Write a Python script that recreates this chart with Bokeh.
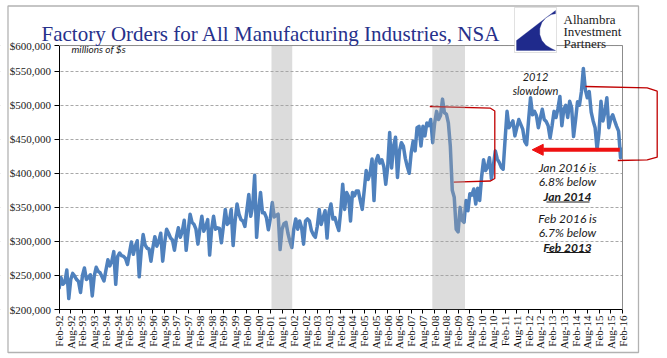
import math
from bokeh.plotting import figure
from bokeh.models import (Range1d, FixedTicker, BoxAnnotation, PolyAnnotation,
                          Label, Arrow, NormalHead)
from bokeh.embed import file_html
from bokeh.resources import INLINE

# ---------------- data (millions of $, NSA, monthly Feb-92 .. Feb-16) ----------------
orders_1992 = [230000, 247000, 237000, 240000, 258000, 216000, 244000, 253000, 249000, 244000, 241000]
orders_1993 = [225000, 250000, 261000, 244000, 247000, 251000, 220000, 249000, 262000, 256000, 254000, 248000]
orders_1994 = [242000, 258000, 273000, 264000, 271000, 285000, 237000, 278000, 283000, 279000, 278000, 275000]
orders_1995 = [266000, 283000, 299000, 281000, 293000, 301000, 248000, 285000, 310000, 295000, 290000, 289000]
orders_1996 = [271000, 291000, 307000, 293000, 300000, 312000, 271000, 298000, 318000, 312000, 305000, 302000]
orders_1997 = [287000, 306000, 320000, 306000, 315000, 331000, 287000, 315000, 340000, 328000, 325000, 318000]
orders_1998 = [296000, 318000, 337000, 315000, 322000, 332000, 280000, 318000, 337000, 318000, 320000, 319000]
orders_1999 = [298000, 322000, 347000, 325000, 328000, 347000, 294000, 330000, 355000, 340000, 332000, 330000]
orders_2000 = [322000, 345000, 369000, 337000, 352000, 397000, 306000, 345000, 372000, 342000, 342000, 335000]
orders_2001 = [317000, 333000, 357000, 336000, 338000, 340000, 288000, 318000, 326000, 328000, 312000, 300000]
orders_2002 = [291000, 318000, 333000, 318000, 330000, 320000, 296000, 330000, 333000, 330000, 316000, 310000]
orders_2003 = [306000, 322000, 347000, 325000, 335000, 345000, 305000, 343000, 355000, 333000, 335000, 325000]
orders_2004 = [316000, 345000, 384000, 347000, 372000, 366000, 330000, 372000, 367000, 374000, 374000, 360000]
orders_2005 = [347000, 375000, 404000, 391000, 400000, 421000, 360000, 418000, 426000, 415000, 420000, 410000]
orders_2006 = [384000, 410000, 460000, 408000, 440000, 453000, 394000, 433000, 445000, 440000, 422000, 410000]
orders_2007 = [400000, 430000, 447000, 433000, 467000, 469000, 440000, 469000, 455000, 474000, 470000, 479000]
orders_2008 = [445000, 474000, 491000, 479000, 485000, 509000, 489000, 487000, 474000, 440000, 375000, 365000]
orders_2009 = [318000, 314000, 350000, 331000, 328000, 360000, 345000, 370000, 368000, 377000, 355000, 378000]
orders_2010 = [360000, 395000, 420000, 404000, 409000, 423000, 392000, 411000, 433000, 421000, 416000, 409000]
orders_2011 = [406000, 450000, 491000, 467000, 472000, 477000, 455000, 467000, 479000, 472000, 465000, 447000]
orders_2012 = [442000, 478000, 511000, 486000, 491000, 485000, 467000, 481000, 494000, 479000, 476000, 470000]
orders_2013 = [452000, 470000, 491000, 482000, 495000, 513000, 470000, 494000, 500000, 482000, 506000, 496000]
orders_2014 = [454000, 478000, 505000, 500000, 520000, 554000, 523000, 511000, 520000, 490000, 477000, 467000]
orders_2015 = [435000, 460000, 506000, 477000, 490000, 511000, 467000, 480000, 486000, 477000, 469000, 462000]
orders_2016 = [423000, 438000]

tick_labels = ["Feb-92", "Aug-92", "Feb-93", "Aug-93", "Feb-94", "Aug-94", "Feb-95", "Aug-95",
               "Feb-96", "Aug-96", "Feb-97", "Aug-97", "Feb-98", "Aug-98", "Feb-99", "Aug-99",
               "Feb-00", "Aug-00", "Feb-01", "Aug-01", "Feb-02", "Aug-02", "Feb-03", "Aug-03",
               "Feb-04", "Aug-04", "Feb-05", "Aug-05", "Feb-06", "Aug-06", "Feb-07", "Aug-07",
               "Feb-08", "Aug-08", "Feb-09", "Aug-09", "Feb-10", "Aug-10", "Feb-11", "Aug-11",
               "Feb-12", "Aug-12", "Feb-13", "Aug-13", "Feb-14", "Aug-14", "Feb-15", "Aug-15",
               "Feb-16"]
tick_step_months = 6

y_tick_values = [200000, 250000, 300000, 350000, 400000, 450000, 500000, 550000, 587700]
y_tick_labels = ["$200,000", "$250,000", "$300,000", "$350,000", "$400,000",
                 "$450,000", "$500,000", "$550,000", "$600,000"]

# recessions as month indexes counted from Feb-92
recession_2001 = (108.6, 119.2)
recession_2008 = (190.8, 207.5)

orders = (orders_1992 + orders_1993 + orders_1994 + orders_1995 + orders_1996 + orders_1997 +
          orders_1998 + orders_1999 + orders_2000 + orders_2001 + orders_2002 + orders_2003 +
          orders_2004 + orders_2005 + orders_2006 + orders_2007 + orders_2008 + orders_2009 +
          orders_2010 + orders_2011 + orders_2012 + orders_2013 + orders_2014 + orders_2015 +
          orders_2016)
months = list(range(len(orders)))
x_ticks = [k * tick_step_months for k in range(len(tick_labels))]
X_LAST = months[-1]
Y_BOT, Y_TOP = y_tick_values[0], y_tick_values[-1]

# ---------------- geometry: frame covers whole canvas, axes at fixed locations ----------------
W, H = 665, 356
PX_I0, PX_ILAST = 58.5, 622.0       # pixel x of first / last month
PX_VBOT, PX_V550 = 309.0, 70.7       # pixel y of 200,000 and 550,000
dx = (PX_ILAST - PX_I0) / X_LAST
dv = (550000 - Y_BOT) / (PX_VBOT - PX_V550)


def px_x(x):
    return (x - PX_I0) / dx


def px_y(y):
    return Y_BOT + (PX_VBOT - y) * dv


p = figure(width=W, height=H, output_backend="svg", toolbar_location=None,
           x_range=Range1d(px_x(0), px_x(W)), y_range=Range1d(px_y(H), px_y(0)),
           min_border=0, min_border_left=0, min_border_right=0,
           min_border_top=0, min_border_bottom=0,
           background_fill_color="white", border_fill_color="white")
p.outline_line_color = None
p.xgrid.visible = False
p.ygrid.grid_line_color = "#a8a8a8"
p.ygrid.grid_line_dash = "3 2"
p.ygrid.grid_line_width = 1

# axes
p.xaxis.fixed_location = Y_BOT
p.xaxis.bounds = (0, X_LAST)
p.xaxis.ticker = FixedTicker(ticks=x_ticks)
p.xaxis.major_label_overrides = {t: l for t, l in zip(x_ticks, tick_labels)}
p.xaxis.major_label_orientation = math.pi / 2
p.xaxis.major_label_text_font = "Liberation Serif"
p.xaxis.major_label_text_font_size = "11px"
p.xaxis.major_label_text_color = "#111111"
p.xaxis.major_label_standoff = 2
p.xaxis.major_tick_out = 4
p.xaxis.major_tick_in = 0
p.xaxis.minor_tick_line_color = None
p.xaxis.axis_line_color = "black"
p.xaxis.major_tick_line_color = "black"

p.yaxis.fixed_location = 0
p.yaxis.bounds = (Y_BOT, Y_TOP)
p.yaxis.ticker = FixedTicker(ticks=y_tick_values)
p.yaxis.major_label_overrides = {t: l for t, l in zip(y_tick_values, y_tick_labels)}
p.yaxis.major_label_text_font = "Liberation Sans Narrow"
p.yaxis.major_label_text_font_size = "11px"
p.yaxis.major_label_text_color = "#222222"
p.yaxis.major_label_standoff = 3
p.yaxis.major_tick_out = 5
p.yaxis.major_tick_in = 0
p.yaxis.minor_tick_line_color = None
p.yaxis.axis_line_color = "black"
p.yaxis.major_tick_line_color = "black"

# keep the dashed grid inside the plot area
p.add_layout(BoxAnnotation(right=0, fill_color="white", fill_alpha=1, line_color=None, level="glyph"))
p.add_layout(BoxAnnotation(left=X_LAST, fill_color="white", fill_alpha=1, line_color=None, level="glyph"))

# plot-area border (top and right, grey)
p.line([0, X_LAST, X_LAST], [Y_TOP, Y_TOP, Y_BOT], line_color="#8c8c8c", line_width=1,
       level="annotation")

# data line
p.line(months, orders, line_color="#4f81bd", line_width=3.5, line_join="round")

# recession shading (on top, semi transparent)
for a, b in (recession_2001, recession_2008):
    p.add_layout(BoxAnnotation(left=a, right=b, bottom=Y_BOT, top=Y_TOP,
                               fill_color="#a1a1a1", fill_alpha=0.375, line_color=None))

# 2008 red bracket
red = "#c00000"
p.line([px_x(429.3), px_x(490), px_x(494.3), px_x(494.3), px_x(490), px_x(453.3)],
       [px_y(106), px_y(107.7), px_y(110.5), px_y(178), px_y(180.5), px_y(181.7)],
       line_color=red, line_width=1.3, level="annotation")

# 2014 red bracket (reaches past the plot area)
p.line([px_x(585), px_x(646.7), px_x(656.7), px_x(656.7), px_x(646.7), px_x(617.3)],
       [px_y(86), px_y(87.3), px_y(90.7), px_y(156.7), px_y(159.3), px_y(160)],
       line_color=red, line_width=1.3, level="annotation")

# big red arrow
p.add_layout(Arrow(end=NormalHead(size=11, fill_color="#ee1111", line_color="#ee1111", line_width=1),
                   x_start=px_x(619.3), y_start=px_y(149.3), x_end=px_x(531.7), y_end=px_y(149.3),
                   line_color="#ee1111", line_width=4))

# outer frame of the picture
p.add_layout(PolyAnnotation(xs=[px_x(7.5), px_x(638), px_x(638), px_x(7.5)],
                            ys=[px_y(5.5), px_y(5.5), px_y(352), px_y(352)],
                            fill_alpha=0, line_color="black", line_width=1.3))


# ---------------- texts ----------------
def add_text(x, y, text, size, font="Lato", style="italic", color="#1a1a1a",
             align="center", baseline="middle"):
    p.add_layout(Label(x=px_x(x), y=px_y(y), text=text, text_font=font,
                       text_font_size=size, text_font_style=style, text_color=color,
                       text_align=align, text_baseline=baseline))


add_text(41, 33, "Factory Orders for All Manufacturing Industries, NSA", "21px",
         font="Liberation Serif", style="normal", color="#27318b", align="left",
         baseline="alphabetic")
add_text(71, 48.5, "millions of $s", "10px", align="left")
add_text(535, 76, "2012", "11px")
add_text(535, 90, "slowdown", "11px")
add_text(567, 167, "Jan 2016 is", "12px")
add_text(567, 181, "6.8% below", "12px")
add_text(567, 196, "Jan 2014", "12px", style="bold italic")
add_text(567, 217.5, "Feb 2016 is", "12px")
add_text(567, 232, "6.7% below", "12px")
add_text(567, 247, "Feb 2013", "12px", style="bold italic")
p.segment(x0=[px_x(546), px_x(546)], y0=[px_y(201.5), px_y(252)],
          x1=[px_x(589), px_x(590)], y1=[px_y(201.5), px_y(252)],
          line_color="#1a1a1a", line_width=1)

# ---------------- logo ----------------
p.add_layout(PolyAnnotation(xs=[px_x(514), px_x(556), px_x(556), px_x(514)],
                            ys=[px_y(7), px_y(7), px_y(52), px_y(52)],
                            fill_color="white", fill_alpha=1, line_color="#9a9a9a", line_width=1))
logo_x = [555, 516, 516, 555, 550.8, 545.4, 541.4, 539.3, 539.3, 541.4, 545.4, 550.8, 555]
logo_y = [10, 40, 50, 50, 47.9, 44.8, 40, 34.1, 27.9, 22, 17.2, 14.1, 13.2]
p.add_layout(PolyAnnotation(xs=[px_x(v) for v in logo_x], ys=[px_y(v) for v in logo_y],
                            fill_color="#1f2a8c", fill_alpha=1, line_color="#1f2a8c", line_width=1))
add_text(563, 19.3, "Alhambra", "13px", font="Liberation Serif", style="normal",
         color="#222222", align="left", baseline="alphabetic")
add_text(563, 31, "Investment", "13px", font="Liberation Serif", style="normal",
         color="#222222", align="left", baseline="alphabetic")
add_text(563, 42.7, "Partners", "13px", font="Liberation Serif", style="normal",
         color="#222222", align="left", baseline="alphabetic")

open("out.html", "w").write(file_html(p, INLINE))
